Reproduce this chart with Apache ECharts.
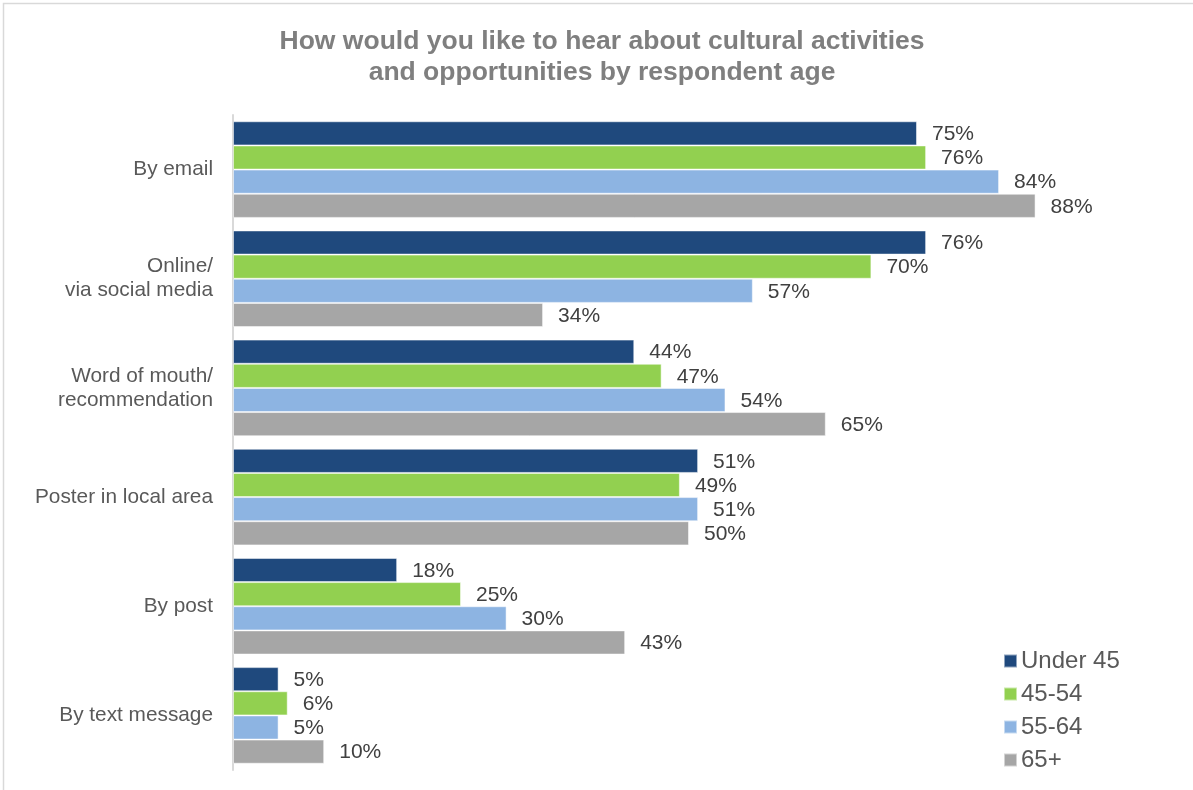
<!DOCTYPE html>
<html>
<head>
<meta charset="utf-8">
<script src="https://cdn.jsdelivr.net/npm/echarts@6/dist/echarts.min.js"></script>
<style>
  html, body { margin: 0; padding: 0; background: #fff; }
  #chart { width: 1193px; height: 790px; }
</style>
</head>
<body>
<div id="chart"></div>
<script>
// Channels, top to bottom
const categories = [
  'By email',
  'Online/\nvia social media',
  'Word of mouth/\nrecommendation',
  'Poster in local area',
  'By post',
  'By text message'
];

const seriesNames = ['Under 45', '45-54', '55-64', '65+'];

// Percent of respondents per age group
const under45 = [75, 76, 44, 51, 18, 5];
const age45to54 = [76, 70, 47, 49, 25, 6];
const age55to64 = [84, 57, 54, 51, 30, 5];
const age65plus = [88, 34, 65, 50, 43, 10];

const colors = ['#1F497D', '#92D050', '#8DB4E2', '#A6A6A6'];
const values = [under45, age45to54, age55to64, age65plus];

const chart = echarts.init(document.getElementById('chart'));

const series = seriesNames.map((name, i) => ({
  name: name,
  type: 'bar',
  data: values[i],
  barGap: '0%',
  barCategoryGap: '11.5%',
  itemStyle: { color: colors[i], borderColor: 'rgba(255,255,255,0.5)', borderWidth: 1 },
  label: {
    show: true,
    position: 'right',
    distance: 15,
    offset: [0, 1],
    formatter: '{c}%',
    color: '#404040',
    fontSize: 21,
    fontFamily: 'Liberation Sans, Arial, sans-serif'
  }
}));

chart.setOption({
  animation: false,
  backgroundColor: '#fff',
  textStyle: { fontFamily: 'Liberation Sans, Arial, sans-serif' },
  title: {
    text: 'How would you like to hear about cultural activities\nand opportunities by respondent age',
    left: 597,
    top: 21,
    textAlign: 'center',
    textStyle: {
      color: '#7F7F7F',
      fontSize: 26.5,
      fontWeight: 'bold',
      lineHeight: 31,
      fontFamily: 'Liberation Sans, Arial, sans-serif'
    }
  },
  legend: {
    orient: 'vertical',
    left: 998,
    top: 642,
    itemWidth: 13,
    itemHeight: 13,
    itemGap: 5,
    icon: 'rect',
    data: seriesNames,
    textStyle: { color: '#595959', fontSize: 24, lineHeight: 28, padding: [0, 0, 0, -1] }
  },
  grid: { left: 233, top: 115, width: 912, height: 655, containLabel: false },
  xAxis: {
    type: 'value',
    min: 0,
    max: 100,
    show: false
  },
  yAxis: {
    type: 'category',
    data: categories,
    inverse: true,
    axisLine: { show: true, lineStyle: { color: '#D9D9D9', width: 2 } },
    axisTick: { show: false },
    axisLabel: {
      color: '#595959',
      fontSize: 20.8,
      margin: 20,
      align: 'right',
      lineHeight: 24
    }
  },
  graphic: [{
    type: 'rect',
    shape: { x: 3.5, y: 3.5, width: 1300, height: 900 },
    style: { fill: 'none', stroke: '#D9D9D9', lineWidth: 1.5 },
    silent: true
  }],
  series: series
});
</script>
</body>
</html>
